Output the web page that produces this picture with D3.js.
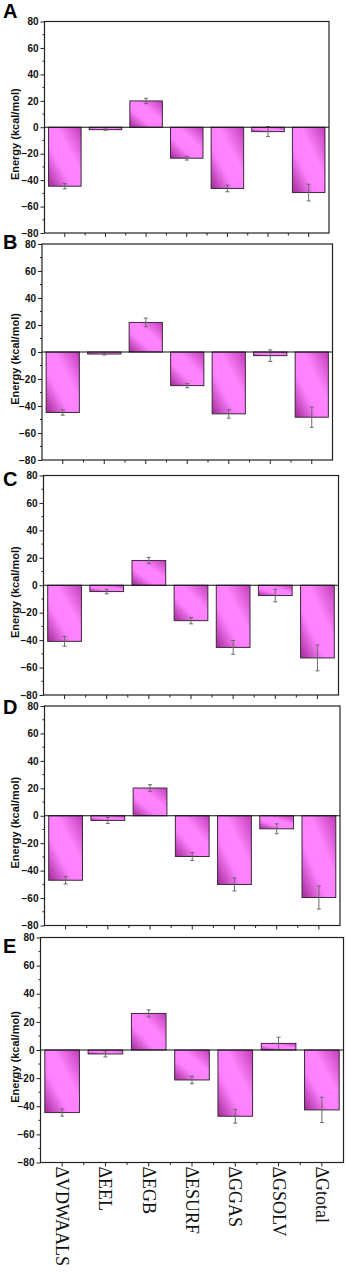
<!DOCTYPE html>
<html>
<head>
<meta charset="utf-8">
<script src="https://cdn.jsdelivr.net/npm/d3@7"></script>
<style>
  body { margin: 0; background: #fff; }
  svg { display: block; }
</style>
</head>
<body>
<svg id="chart" width="346" height="1272"></svg>
<script>
const categories = ['\u0394VDWAALS', '\u0394EEL', '\u0394EGB', '\u0394ESURF', '\u0394GGAS', '\u0394GSOLV', '\u0394Gtotal'];
const yTicks = [-80, -60, -40, -20, 0, 20, 40, 60, 80];

const valuesA = [-44.6, -1.8, 19.9, -23.4, -46.3, -3.3, -49.4];
const errorsA = [2.0, 0.5, 2.0, 1.4, 2.5, 3.8, 6.3];
const valuesB = [-44.8, -1.5, 21.9, -24.9, -45.8, -2.7, -48.3];
const errorsB = [2.0, 0.7, 3.2, 1.6, 3.2, 4.3, 7.5];
const valuesC = [-40.9, -4.6, 18.0, -25.8, -45.3, -7.5, -53.0];
const errorsC = [3.5, 1.6, 2.3, 2.3, 5.0, 4.6, 9.4];
const valuesD = [-47.0, -3.4, 20.2, -29.7, -50.1, -9.5, -59.6];
const errorsD = [2.7, 2.2, 2.4, 2.9, 4.7, 3.6, 8.4];
const valuesE = [-44.5, -2.8, 26.0, -21.3, -47.1, 4.7, -42.6];
const errorsE = [2.5, 2.1, 2.5, 2.7, 4.9, 4.4, 9.0];

// panel boxes in the stacked figure
const panels = [
    { id: 'A', values: valuesA, errors: errorsA, left: 44.5, right: 329, top: 21.5, bottom: 233, labelY: 18 },
    { id: 'B', values: valuesB, errors: errorsB, left: 42, right: 332.5, top: 244, bottom: 460, labelY: 249 },
    { id: 'C', values: valuesC, errors: errorsC, left: 43.5, right: 338.5, top: 475.5, bottom: 695, labelY: 486 },
    { id: 'D', values: valuesD, errors: errorsD, left: 44.5, right: 340, top: 706, bottom: 925.5, labelY: 714 },
    { id: 'E', values: valuesE, errors: errorsE, left: 40.5, right: 343.5, top: 937.5, bottom: 1162.5, labelY: 953 },
];

const svg = d3.select('#chart');

const defs = svg.append('defs');
const grad = defs.append('linearGradient')
    .attr('id', 'barFill')
    .attr('x1', 0).attr('y1', 1)
    .attr('x2', 1).attr('y2', 0);
grad.append('stop').attr('offset', '0%').attr('stop-color', '#a02a95');
grad.append('stop').attr('offset', '35%').attr('stop-color', '#ff80ff');
grad.append('stop').attr('offset', '62%').attr('stop-color', '#ff84ff');
grad.append('stop').attr('offset', '100%').attr('stop-color', '#c23cb8');

panels.forEach((p, pi) => {
    const g = svg.append('g');

    const x = d3.scaleBand()
        .domain(categories)
        .range([p.left, p.right])
        .paddingInner(0.2)
        .paddingOuter(0.1);

    const y = d3.scaleLinear()
        .domain([-80, 80])
        .range([p.bottom, p.top]);

    // bars
    g.selectAll('rect.bar')
        .data(p.values)
        .enter()
        .append('rect')
        .attr('class', 'bar')
        .attr('x', (d, i) => x(categories[i]))
        .attr('width', x.bandwidth())
        .attr('y', (d) => y(Math.max(0, d)))
        .attr('height', (d) => Math.abs(y(d) - y(0)))
        .attr('fill', 'url(#barFill)')
        .attr('stroke', '#3a2a3a')
        .attr('stroke-width', 1);

    // error bars
    const eb = g.selectAll('g.err')
        .data(p.values)
        .enter()
        .append('g')
        .attr('stroke', '#6a6a6a')
        .attr('stroke-width', 1);
    const cx = (i) => x(categories[i]) + x.bandwidth() / 2;
    eb.append('line')
        .attr('x1', (d, i) => cx(i)).attr('x2', (d, i) => cx(i))
        .attr('y1', (d, i) => y(d + p.errors[i]))
        .attr('y2', (d, i) => y(d - p.errors[i]));
    eb.append('line')
        .attr('x1', (d, i) => cx(i) - 2).attr('x2', (d, i) => cx(i) + 2)
        .attr('y1', (d, i) => y(d + p.errors[i]))
        .attr('y2', (d, i) => y(d + p.errors[i]));
    eb.append('line')
        .attr('x1', (d, i) => cx(i) - 2).attr('x2', (d, i) => cx(i) + 2)
        .attr('y1', (d, i) => y(d - p.errors[i]))
        .attr('y2', (d, i) => y(d - p.errors[i]));

    // zero line
    g.append('line')
        .attr('x1', p.left).attr('x2', p.right)
        .attr('y1', y(0)).attr('y2', y(0))
        .attr('stroke', '#111')
        .attr('stroke-width', 1.2);

    // frame
    g.append('rect')
        .attr('x', p.left).attr('y', p.top)
        .attr('width', p.right - p.left)
        .attr('height', p.bottom - p.top)
        .attr('fill', 'none')
        .attr('stroke', '#222')
        .attr('stroke-width', 1.2);

    // y axis
    const yAxis = g.append('g')
        .attr('transform', `translate(${p.left},0)`)
        .call(d3.axisLeft(y).tickValues(yTicks).tickSize(4).tickPadding(2));
    yAxis.select('.domain').remove();
    yAxis.selectAll('line').attr('stroke', '#222');
    yAxis.selectAll('text')
        .attr('font-family', 'Arial, "Liberation Sans", sans-serif')
        .attr('font-weight', 'bold')
        .attr('font-size', '10px')
        .attr('fill', '#111');
    const minorY = d3.range(-70, 80, 20);
    g.selectAll('line.minorY')
        .data(minorY)
        .enter()
        .append('line')
        .attr('x1', p.left - 2).attr('x2', p.left)
        .attr('y1', (d) => y(d)).attr('y2', (d) => y(d))
        .attr('stroke', '#222');

    // x ticks
    const xAxis = g.append('g')
        .attr('transform', `translate(0,${p.bottom})`)
        .call(d3.axisBottom(x).tickSize(4).tickFormat(''));
    xAxis.select('.domain').remove();
    xAxis.selectAll('line').attr('stroke', '#222');
    const step = x.step();
    g.selectAll('line.minorX')
        .data(d3.range(1, categories.length))
        .enter()
        .append('line')
        .attr('x1', (d) => p.left + d * step).attr('x2', (d) => p.left + d * step)
        .attr('y1', p.bottom).attr('y2', p.bottom + 2.5)
        .attr('stroke', '#222');

    // category labels on the last panel
    if (pi === panels.length - 1) {
        g.selectAll('text.cat')
            .data(categories)
            .enter()
            .append('text')
            .attr('transform', (d) => `translate(${x(d) + x.bandwidth() / 2},${p.bottom + 4}) rotate(90)`)
            .attr('text-anchor', 'start')
            .attr('dominant-baseline', 'central')
            .attr('font-family', '"Liberation Serif", "Times New Roman", serif')
            .attr('font-size', '18px')
            .attr('fill', '#111')
            .text((d) => d);
    }

    // y title
    g.append('text')
        .attr('transform', `translate(15,${(p.top + p.bottom) / 2 + 7}) rotate(-90)`)
        .attr('text-anchor', 'middle')
        .attr('dominant-baseline', 'central')
        .attr('font-family', 'Arial, "Liberation Sans", sans-serif')
        .attr('font-weight', 'bold')
        .attr('font-size', '11px')
        .attr('fill', '#111')
        .text('Energy (kcal/mol)');

    // panel letter
    g.append('text')
        .attr('x', 3)
        .attr('y', p.labelY)
        .attr('font-family', 'Arial, "Liberation Sans", sans-serif')
        .attr('font-weight', 'bold')
        .attr('font-size', '20px')
        .attr('fill', '#000')
        .text(p.id);
});
</script>
</body>
</html>
